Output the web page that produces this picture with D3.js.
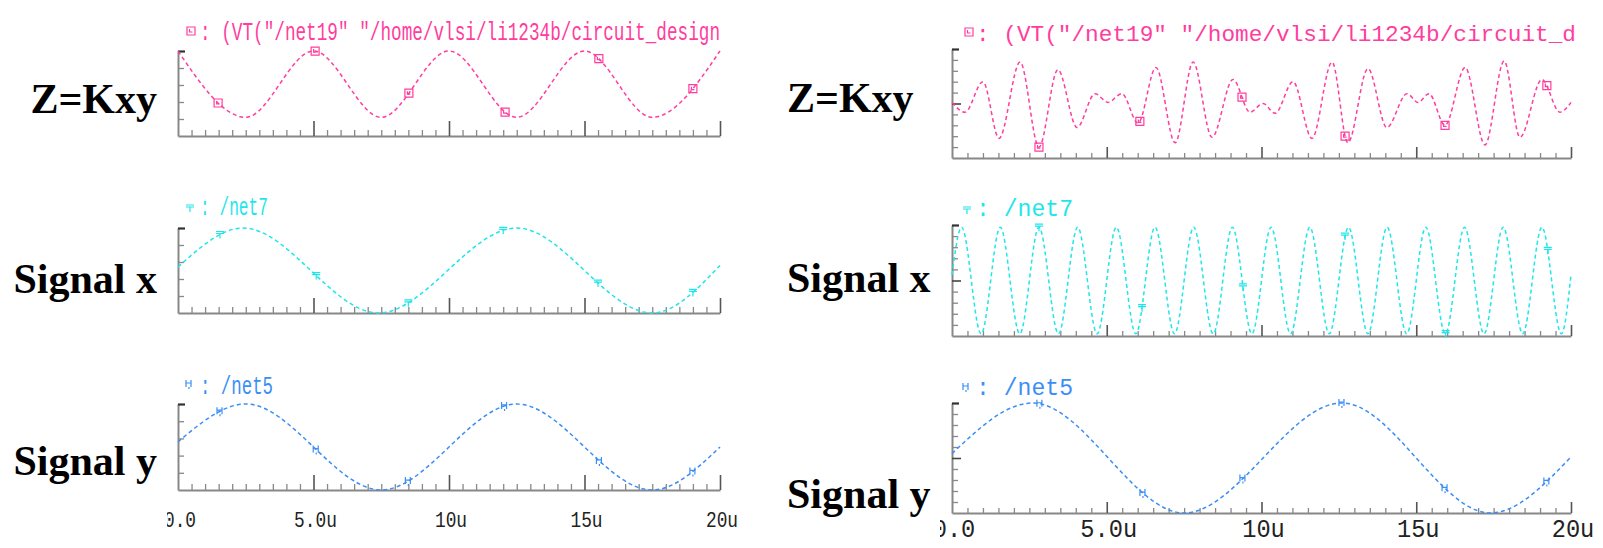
<!DOCTYPE html>
<html>
<head>
<meta charset="utf-8">
<script src="https://cdn.jsdelivr.net/npm/d3@7.9.0/dist/d3.min.js"></script>
<style>
  body { margin: 0; background: #fff; }
  svg { display: block; }
</style>
</head>
<body>
<svg id="chart" width="1603" height="548"></svg>
<script>
// time axis (microseconds)
const xMajorTicks = [0, 5, 10, 15, 20];
const xTickLabels = ['0.0', '5.0u', '10u', '15u', '20u'];
const rowLabels = ['Z=Kxy', 'Signal x', 'Signal y'];
const leftNames = ['(VT("/net19" "/home/vlsi/li1234b/circuit_design', '/net7', '/net5'];
const rightNames = ['(VT("/net19" "/home/vlsi/li1234b/circuit_d', '/net7', '/net5'];

// left run: x and y at the same frequency
const leftZT = [0, 2.5, 5, 7.5, 10, 12.5, 15, 17.5, 20];
const leftZV = [5.0, 1.1, 5.0, 1.1, 5.0, 1.1, 5.0, 1.1, 5.0];
const leftXT = [0, 2.4, 7.4, 12.5, 17.5, 20];
const leftXV = [2.7, 5.0, 0.0, 5.0, 0.0, 2.8];
const leftYT = [0, 2.5, 7.5, 12.5, 17.5, 20];
const leftYV = [2.8, 5.0, 0.0, 5.0, 0.0, 2.5];
const leftZMarks = [1.48, 5.06, 8.52, 12.07, 15.53, 19.0];
const leftXMarks = [1.55, 5.1, 8.5, 12.0, 15.5, 19.0];
const leftYMarks = [1.55, 5.1, 8.5, 12.05, 15.55, 19.0];

// right run: x is 8 times faster than y
const rightZT = [0, 0.42, 1.0, 1.52, 2.2, 2.81, 3.42, 4.04, 4.62, 5.04, 5.49, 6.01, 6.59, 7.21, 7.79,
  8.4, 9.08, 9.63, 10.05, 10.44, 11.02, 11.63, 12.28, 12.79, 13.44, 14.05, 14.7, 15.06, 15.41,
  15.93, 16.58, 17.22, 17.84, 18.35, 19.06, 19.64, 20];
const rightZV = [5.1, 4.2, 7.0, 1.8, 8.8, 1.0, 8.1, 2.8, 5.9, 5.1, 5.9, 3.2, 8.3, 1.4, 8.8,
  1.9, 7.2, 4.2, 5.0, 4.1, 7.0, 1.8, 8.8, 1.4, 8.2, 2.8, 5.9, 5.1, 5.9,
  3.0, 8.3, 1.2, 8.9, 1.9, 7.2, 4.2, 5.1];
const rightXT = [0, 0.31, 0.94, 1.56, 2.19, 2.81, 3.44, 4.06, 4.69, 5.31, 5.94, 6.56, 7.19, 7.81, 8.44,
  9.06, 9.69, 10.31, 10.94, 11.56, 12.19, 12.81, 13.44, 14.06, 14.69, 15.31, 15.94, 16.56, 17.19,
  17.81, 18.44, 19.06, 19.69, 20];
const rightXV = [5.5, 9.8, 0.2, 9.8, 0.2, 9.8, 0.2, 9.8, 0.2, 9.8, 0.2, 9.8, 0.2, 9.8, 0.2,
  9.8, 0.2, 9.8, 0.2, 9.8, 0.2, 9.8, 0.2, 9.8, 0.2, 9.8, 0.2, 9.8, 0.2,
  9.8, 0.2, 9.8, 0.2, 5.5];
const rightYT = [0, 2.6, 7.5, 12.6, 17.4, 20];
const rightYV = [5.4, 10.0, 0.0, 10.0, 0.0, 5.1];
const rightZMarks = [2.81, 6.07, 9.37, 12.7, 15.93, 19.22];
const rightXMarks = [2.81, 6.14, 9.4, 12.7, 15.95, 19.25];
const rightYMarks = [2.84, 6.17, 9.4, 12.6, 15.93, 19.22];

const colors = ['#ff3d9e', '#1fe6ea', '#3a8ef6'];
const markerKinds = ['box', 'bar', 'h'];

const panels = [
  {
    x0: 178, x1: 720, yMax: 5, majorY: null,
    rows: [[51, 136], [228, 313], [404, 490]],
    series: [[leftZT, leftZV, leftZMarks], [leftXT, leftXV, leftXMarks], [leftYT, leftYV, leftYMarks]],
    names: leftNames,
    labelX: 157, labelAnchor: 'end', labelBase: [113, 293, 475],
    titleX: 200, titleEnd: [720, 268, 273], titleBase: [40, 215, 394], titleFont: [25, 25, 25],
    titleMark: [[191, 31], [190, 208], [189, 384]],
    tickBase: 527, tickFont: 22, tickCharW: 10.7, clipX: 167,
    minorLen: 6, majorLen: 15
  },
  {
    x0: 952, x1: 1571, yMax: 10, majorY: 5,
    rows: [[49, 158], [225, 336], [403, 513]],
    series: [[rightZT, rightZV, rightZMarks], [rightXT, rightXV, rightXMarks], [rightYT, rightYV, rightYMarks]],
    names: rightNames,
    labelX: 787, labelAnchor: 'start', labelBase: [112, 292, 508],
    titleX: 976, titleEnd: [1576, 1073, 1073], titleBase: [41, 216, 395], titleFont: [22.5, 24, 24],
    titleMark: [[969, 32], [967, 210], [966, 387]],
    tickBase: 537, tickFont: 25, tickCharW: 14.2, clipX: 940,
    minorLen: 5, majorLen: 11
  }
];

const svg = d3.select('#chart');

function drawMarker(g, kind, x, y, color) {
  let d;
  if (kind === 'box') {
    d = `M${x - 4},${y - 4}h8v8h-8z M${x - 1.5},${y - 2}v3h3`;
  } else if (kind === 'bar') {
    d = `M${x - 4},${y - 3}h8 M${x - 4},${y - 1}h8 M${x},${y - 1}v5`;
  } else {
    d = `M${x - 3},${y - 4}v7 M${x + 2},${y - 4}v7 M${x - 3},${y - 1}h5 M${x},${y + 3}v2`;
  }
  g.append('path').attr('d', d).attr('fill', 'none')
    .attr('stroke', color).attr('stroke-width', 1.2);
}

// find the point of the drawn line at a given x
function pointAtX(node, px) {
  let lo = 0, hi = node.getTotalLength();
  for (let i = 0; i < 30; i++) {
    const mid = (lo + hi) / 2;
    if (node.getPointAtLength(mid).x < px) lo = mid; else hi = mid;
  }
  return node.getPointAtLength(lo);
}

panels.forEach((p, pi) => {
  const x = d3.scaleLinear().domain([0, 20]).range([p.x0, p.x1]);
  const minorTicks = d3.range(0, 20.01, 0.5).filter(t => t % 5 !== 0);

  p.rows.forEach(([top, bottom], ri) => {
    const y = d3.scaleLinear().domain([0, p.yMax]).range([bottom, top]);
    const g = svg.append('g');
    const color = colors[ri];

    // bottom axis, minor and major ticks pointing up
    const xMinor = g.append('g').attr('transform', `translate(0,${bottom})`)
      .call(d3.axisBottom(x).tickValues(minorTicks).tickSize(-p.minorLen).tickSizeOuter(0).tickFormat(''));
    const xMajor = g.append('g').attr('transform', `translate(0,${bottom})`)
      .call(d3.axisBottom(x).tickValues(xMajorTicks.slice(1)).tickSize(-p.majorLen).tickSizeOuter(0).tickFormat(''));
    xMajor.select('.domain').remove();
    xMinor.select('.domain').attr('stroke', '#888').attr('stroke-width', 2);
    xMinor.selectAll('.tick line').attr('stroke', '#888').attr('stroke-width', 1.3);
    xMajor.selectAll('.tick line').attr('stroke', '#555').attr('stroke-width', 1.6);

    // left axis, ticks pointing right
    const yAx = g.append('g').attr('transform', `translate(${p.x0},0)`)
      .call(d3.axisLeft(y).tickValues(d3.range(1, p.yMax + 1)).tickSize(-6).tickSizeOuter(0).tickFormat(''));
    yAx.select('.domain').attr('stroke', '#888').attr('stroke-width', 2);
    yAx.selectAll('.tick line').attr('stroke', '#888').attr('stroke-width', 1.3);
    yAx.selectAll('.tick').filter(d => d === p.yMax).select('line')
      .attr('stroke', '#333').attr('stroke-width', 2.2).attr('x2', 7);
    if (p.majorY !== null) {
      yAx.selectAll('.tick').filter(d => d === p.majorY).select('line')
        .attr('stroke', '#444').attr('stroke-width', 1.6).attr('x2', 9);
    }

    // trace
    const [ts, vs, marks] = p.series[ri];
    const pts = ts.map((t, i) => [t, vs[i]]);
    const line = d3.line().x(d => x(d[0])).y(d => y(d[1])).curve(d3.curveMonotoneX);
    const path = g.append('path').datum(pts)
      .attr('d', line).attr('fill', 'none')
      .attr('stroke', color).attr('stroke-width', 1.5)
      .attr('stroke-dasharray', '4,3');

    marks.forEach(t => {
      const pt = pointAtX(path.node(), x(t));
      drawMarker(g, markerKinds[ri], pt.x, pt.y, color);
    });

    // trace title
    const title = ': ' + p.names[ri];
    g.append('text')
      .attr('x', p.titleX).attr('y', p.titleBase[ri])
      .attr('font-family', 'Liberation Mono').attr('font-size', p.titleFont[ri])
      .attr('fill', color)
      .attr('textLength', p.titleEnd[ri] - p.titleX)
      .attr('lengthAdjust', 'spacingAndGlyphs')
      .text(title);
    drawMarker(g, markerKinds[ri], p.titleMark[ri][0], p.titleMark[ri][1], color);

    // row label
    svg.append('text')
      .attr('x', p.labelX).attr('y', p.labelBase[ri])
      .attr('text-anchor', p.labelAnchor)
      .attr('font-family', 'Liberation Serif').attr('font-weight', 'bold')
      .attr('font-size', 42).attr('fill', '#000')
      .text(rowLabels[ri]);
  });

  // time labels under the last row
  const clipId = 'clip' + pi;
  svg.append('clipPath').attr('id', clipId)
    .append('rect').attr('x', p.clipX).attr('y', 0).attr('width', 1603).attr('height', 548);
  svg.append('g').attr('clip-path', `url(#${clipId})`)
    .selectAll('text').data(xMajorTicks).join('text')
    .attr('x', d => x(d) + 2).attr('y', p.tickBase)
    .attr('text-anchor', 'middle')
    .attr('font-family', 'Liberation Mono').attr('font-size', p.tickFont)
    .attr('fill', '#222')
    .attr('textLength', (d, i) => xTickLabels[i].length * p.tickCharW)
    .attr('lengthAdjust', 'spacingAndGlyphs')
    .text((d, i) => xTickLabels[i]);
});
</script>
</body>
</html>
